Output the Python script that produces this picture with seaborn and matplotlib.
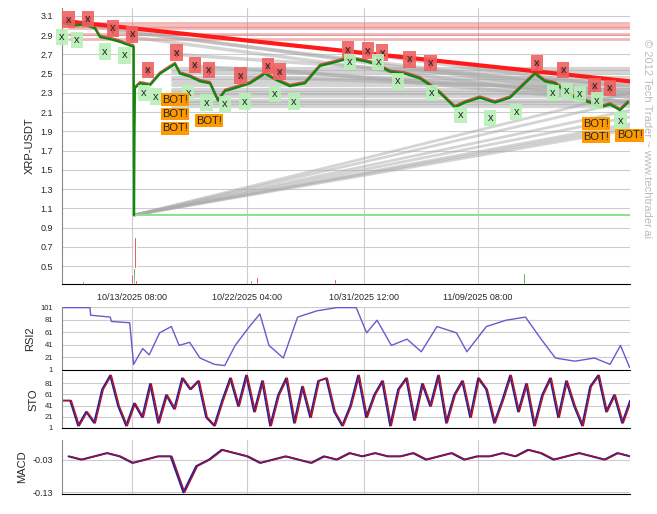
import numpy as np
import matplotlib
matplotlib.use("Agg")
import matplotlib.pyplot as plt
import seaborn as sns

sns.set_style("white")
plt.rcParams['font.family'] = ['Liberation Sans', 'DejaVu Sans']

# time axis in days from start of chart
tick_days = [5.38, 14.21, 23.2, 31.95]
tick_labels = ['10/13/2025 08:00', '10/22/2025 04:00', '10/31/2025 12:00', '11/09/2025 08:00']
x_end = 43.63

price_days = [0, 1.0, 1.77, 2.53, 2.92, 3.69, 4.45, 5.07, 5.5, 5.53, 5.56, 5.6, 5.99, 6.76, 7.53, 8.68,
              9.06, 9.83, 10.6, 11.37, 11.98, 12.52, 13.29, 14.44, 15.59, 16.36, 17.51, 18.66, 19.82,
              20.97, 22.12, 23.27, 24.04, 25.19, 26.34, 27.5, 28.26, 29.03, 30.18, 30.95, 32.1, 33.26,
              34.41, 35.18, 36.33, 37.1, 37.86, 38.63, 39.4, 40.55, 41.32, 42.09, 42.86, 43.47]
price = [3.03, 3.0, 3.01, 2.97, 2.88, 2.86, 2.83, 2.8, 2.78, 1.03, 1.9, 2.35, 2.4, 2.38, 2.5, 2.6,
         2.5, 2.47, 2.42, 2.4, 2.22, 2.32, 2.35, 2.4, 2.5, 2.44, 2.37, 2.4, 2.58,
         2.62, 2.66, 2.63, 2.6, 2.52, 2.5, 2.45, 2.38, 2.3, 2.15, 2.2, 2.25, 2.2,
         2.25, 2.35, 2.5, 2.42, 2.4, 2.32, 2.25, 2.2, 2.15, 2.18, 2.12, 2.2]

sell_days = [0.5, 2.0, 3.9, 5.4, 6.6, 8.8, 10.2, 11.3, 13.7, 15.8, 16.7, 21.96, 23.5, 24.6, 26.7, 28.3, 36.5, 38.5, 40.9, 42.1]
sell_price = [3.06, 3.07, 2.97, 2.91, 2.54, 2.72, 2.59, 2.54, 2.48, 2.58, 2.52, 2.75, 2.74, 2.72, 2.65, 2.61, 2.61, 2.54, 2.37, 2.35]
buy_days = [0, 1.15, 3.3, 4.8, 6.3, 7.2, 9.7, 11.1, 12.5, 14.05, 16.36, 17.8, 22.1, 24.3, 25.8, 28.4, 30.6, 32.9, 34.9, 37.7, 38.8, 39.8, 41.1, 42.9]
buy_price = [2.88, 2.85, 2.73, 2.69, 2.3, 2.26, 2.3, 2.2, 2.18, 2.21, 2.29, 2.21, 2.62, 2.62, 2.42, 2.3, 2.07, 2.04, 2.1, 2.3, 2.32, 2.29, 2.22, 2.01]
bot_days = [8.7, 8.7, 8.7, 11.3, 41.0, 41.0, 43.6]
bot_price = [2.23, 2.08, 1.93, 2.01, 1.98, 1.84, 1.86]

red_levels = [3.03, 3.0, 2.97, 2.91, 2.86]
gray_levels = [2.55, 2.52, 2.45, 2.42, 2.38, 2.33, 2.3, 2.27, 2.22, 2.19, 2.16]
fan_ends = [2.3, 2.22, 2.12, 2.05, 1.98, 1.95, 1.92]
drop_starts = [(2.0, 3.0), (3.9, 2.95), (5.4, 2.88), (8.8, 2.7), (10.2, 2.58), (13.7, 2.47), (15.8, 2.55), (23.5, 2.7)]
drop_ends = [2.25, 2.3, 2.2, 2.38, 2.28, 2.33, 2.2, 2.35]

vol_days = [5.6, 5.5, 5.7, 14.5, 15.0, 21.0, 26.0, 35.5, 5.4, 1.6]
vol = [0.8, 0.48, 0.35, 0.35, 0.39, 0.36, 0.36, 0.43, 0.42, 0.34]

rsi_days = [0, 2.15, 2.2, 3.7, 3.8, 5.2, 5.5, 6.2, 6.7, 7.5, 8.4, 9.0, 9.8, 10.6, 11.7, 12.5, 13.3, 14.4, 15.2,
            15.9, 17.0, 18.1, 19.6, 21.1, 22.6, 23.4, 24.2, 25.3, 26.5, 27.6, 28.8, 30.3, 31.1, 32.6, 34.1,
            35.6, 36.8, 37.9, 39.4, 40.9, 42.1, 42.9, 43.6]
rsi = [100, 100, 88, 85, 78, 76, 10, 35, 25, 60, 70, 40, 45, 20, 10, 8, 40, 70, 90,
       40, 20, 85, 95, 100, 100, 60, 80, 40, 50, 30, 70, 60, 30, 70, 80,
       85, 50, 20, 15, 20, 10, 40, 5]

sto = [50, 50, 5, 30, 10, 70, 95, 40, 5, 45, 20, 80, 10, 60, 35, 90, 70, 85, 20, 5, 50, 90, 40, 95, 30, 85,
       5, 60, 90, 10, 75, 20, 85, 90, 30, 5, 40, 95, 20, 60, 85, 5, 70, 90, 15, 80, 40, 95, 10, 60, 85,
       20, 90, 70, 10, 50, 95, 30, 80, 5, 60, 90, 20, 85, 40, 5, 75, 95, 30, 60, 10, 50]
macd = [-0.02, -0.03, -0.02, -0.01, -0.02, -0.04, -0.03, -0.02, -0.02, -0.13, -0.05, -0.03, 0.0, -0.01, -0.02,
        -0.04, -0.03, -0.02, -0.03, -0.04, -0.02, -0.03, -0.01, -0.02, -0.01, -0.02, -0.02, -0.01,
        -0.03, -0.02, -0.01, -0.03, -0.02, -0.02, -0.01, -0.02, 0.0, -0.01, -0.03, -0.02, -0.01,
        -0.02, -0.03, -0.01, -0.02]

fig = plt.figure(figsize=(6.57, 5.14), dpi=100)
ax = fig.add_axes([62/657, 1-284/514, 568/657, 276/514])
ax_rsi = fig.add_axes([62/657, 1-370/514, 568/657, 63/514])
ax_sto = fig.add_axes([62/657, 1-428/514, 568/657, 56/514])
ax_macd = fig.add_axes([62/657, 1-494/514, 568/657, 54/514])

crash = 5.53
# levels and fans
for lv in red_levels:
    ax.plot([crash - 5, x_end], [lv, lv], color='#e06060', alpha=0.45, lw=2, zorder=1)
for lv in gray_levels:
    ax.plot([crash + 3, x_end], [lv, lv], color='#aaaaaa', alpha=0.5, lw=3, zorder=1)
for (d0, p0), p1 in zip(drop_starts, drop_ends):
    ax.plot([d0, x_end], [p0, p1], color='#aaaaaa', alpha=0.5, lw=2.5, zorder=1)
for p1 in fan_ends:
    ax.plot([crash, x_end], [1.03, p1], color='#aaaaaa', alpha=0.5, lw=2, zorder=1)
ax.plot([crash, x_end], [1.03, 1.03], color='#90e090', lw=1.5, zorder=1)
ax.plot([0, x_end], [3.05, 2.42], color='#ff1a1a', lw=3, zorder=2)

sns.lineplot(x=price_days, y=np.array(price) + 0.015, ax=ax, color='#cc3030', lw=1.4, alpha=0.8, zorder=3)
sns.lineplot(x=price_days, y=price, ax=ax, color='#0a8a0a', lw=1.6, zorder=3)
vol_colors = ['#cc0000', '#008000', '#cc0000', '#008000', '#cc0000', '#cc0000', '#008000', '#008000', '#cc0000', '#cc0000']
ax.bar(vol_days, np.array(vol) - 0.313, bottom=0.313, width=0.15, color=vol_colors, zorder=4)

for d, p in zip(sell_days, sell_price):
    ax.annotate('', xy=(d, p - 0.09), xytext=(d, p - 0.02),
                arrowprops=dict(arrowstyle='-|>', color='black', lw=0.8), zorder=4)
    ax.text(d, p, 'x', ha='center', va='center', fontsize=8, zorder=5,
            bbox=dict(boxstyle='square,pad=0.3', fc='#f06060', ec='none', alpha=0.9))
for d, p in zip(buy_days, buy_price):
    ax.text(d, p, 'x', ha='center', va='center', fontsize=8, zorder=5,
            bbox=dict(boxstyle='square,pad=0.3', fc='#b8f0b8', ec='none', alpha=0.9))
for d, p in zip(bot_days, bot_price):
    ax.text(d, p, 'BOT!', ha='center', va='center', fontsize=8, zorder=6,
            bbox=dict(boxstyle='square,pad=0.12', fc='#ff9900', ec='none'))

ax.set_xlim(0, x_end)
ax.set_ylim(0.313, 3.183)
ax.set_yticks(np.arange(0.5, 3.15, 0.2))
ax.set_yticklabels([f'{v:.1f}' for v in np.arange(0.5, 3.15, 0.2)])
ax.set_ylabel('XRP-USDT', fontsize=8)
fig.text(0.985, 0.73, '© 2012 Tech Trader ~ www.techtrader.ai', rotation=270, fontsize=8,
         color='#bbbbbb', ha='center', va='center')

sns.lineplot(x=rsi_days, y=rsi, ax=ax_rsi, color='#6a5acd', lw=1)
ax_rsi.set_ylim(1, 101)
ax_rsi.set_yticks([1, 21, 41, 61, 81, 101])
ax_rsi.set_ylabel('RSI2', fontsize=8)

sto_days = np.linspace(0, x_end, len(sto))
sns.lineplot(x=sto_days, y=sto, ax=ax_sto, color='#2020a0', lw=1.2)
sns.lineplot(x=sto_days + 0.1, y=sto, ax=ax_sto, color='#b01020', lw=1)
ax_sto.set_ylim(1, 101)
ax_sto.set_yticks([1, 21, 41, 61, 81])
ax_sto.set_ylabel('STO', fontsize=8)

macd_days = np.linspace(0.5, x_end, len(macd))
sns.lineplot(x=macd_days, y=macd, ax=ax_macd, color='#2020a0', lw=1.4)
sns.lineplot(x=macd_days + 0.1, y=macd, ax=ax_macd, color='#a01030', lw=1)
ax_macd.set_ylim(-0.135, 0.03)
ax_macd.set_yticks([-0.13, -0.03])
ax_macd.set_yticklabels(['-0.13', '-0.03'])
ax_macd.set_ylabel('MACD', fontsize=8)

for a in [ax, ax_rsi, ax_sto, ax_macd]:
    a.set_xlim(0, x_end)
    a.set_xticks(tick_days)
    a.grid(True, color='#cccccc', lw=0.8)
    a.tick_params(labelsize=6.5, length=3, direction='out')
    for s in ['top', 'right']:
        a.spines[s].set_visible(False)
    a.spines['bottom'].set_color('black')
    a.spines['left'].set_color('#888888')
    a.set_xticklabels([])
ax.set_xticklabels(tick_labels)
for a in [ax_rsi, ax_sto]:
    a.tick_params(labelsize=5.5)

fig.savefig('out.png', dpi=100)
